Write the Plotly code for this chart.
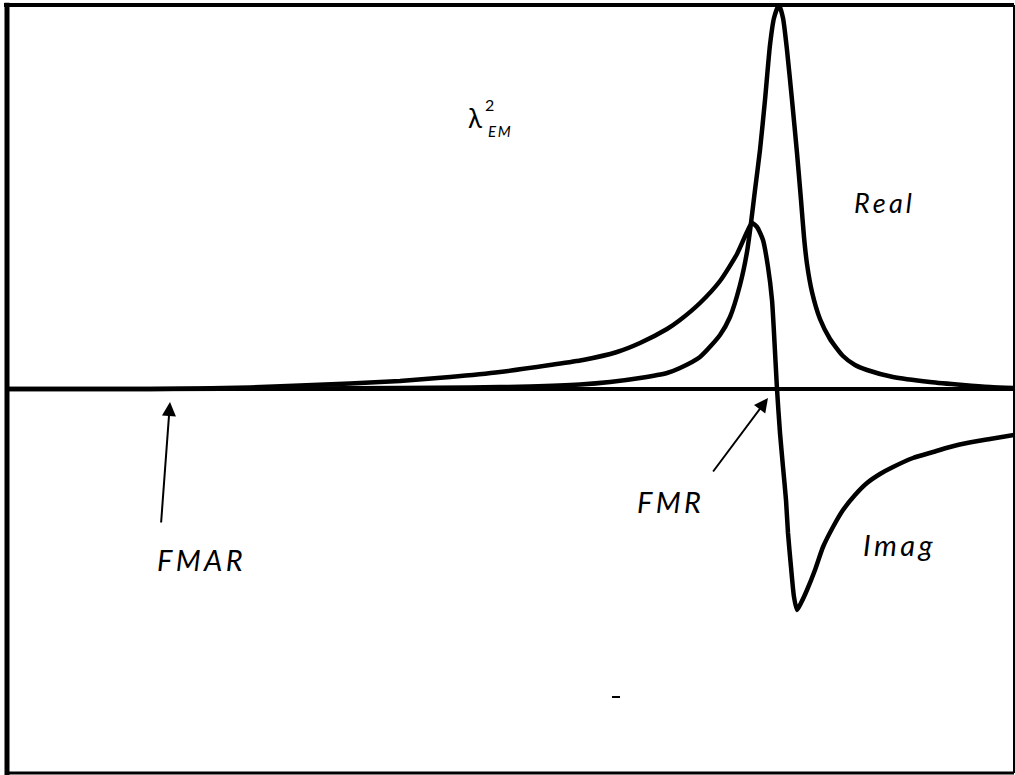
import plotly.graph_objects as go

# Field (arbitrary units) and response values
field_real = [7, 150, 300, 400, 470, 530, 580, 610, 640, 667, 680, 700, 720, 730, 740, 747, 751, 755,
              760, 765, 770, 774, 779, 783, 787, 792, 797, 801, 804, 807, 812, 820, 830, 843, 855, 867,
              893, 930, 963, 990, 1014]
real_vals = [0, 0, 0.5, 1, 1.5, 2.5, 4.5, 7, 11, 16, 21, 32, 54, 72, 104, 137, 166, 199,
             239, 289, 344, 371, 384, 371, 339, 289, 236, 189, 152, 125, 97, 70, 50, 33, 24, 19,
             12, 7, 4, 2, 1]

field_imag = [7, 150, 250, 300, 350, 400, 450, 500, 550, 583, 617, 640, 667, 680, 700, 720, 737, 747,
              752, 757, 763, 768, 772, 774, 777, 780, 783, 786, 788, 791, 794, 797, 801, 807, 815, 823,
              833, 843, 855, 867, 880, 893, 913, 933, 950, 967, 990, 1014]
imag_vals = [0, 0, 1.5, 3.5, 5.5, 8, 12, 17, 24, 29, 37, 46, 60, 69, 86, 108, 135, 157,
             166, 162, 149, 122, 89, 56, 0, -44, -78, -111, -144, -178, -208, -221, -214, -201, -181, -158,
             -138, -121, -106, -94, -85, -78, -69, -63, -58, -54, -50, -46]

x_range = [7, 1014]
y_range = [-384, 384]

fig = go.Figure()
line_style = dict(color="black", width=4.5, shape="spline", smoothing=0.6)
fig.add_trace(go.Scatter(x=field_real, y=real_vals, mode="lines", line=line_style,
                         name="Real", showlegend=False, hoverinfo="skip"))
fig.add_trace(go.Scatter(x=field_imag, y=imag_vals, mode="lines", line=line_style,
                         name="Imag", showlegend=False, hoverinfo="skip"))

font_main = "Lato, 'Liberation Sans', Arial, sans-serif"
ts = "\u2009"

annotations = [
    dict(x=475, y=271, text="λ", font=dict(size=26), showarrow=False),
    dict(x=489, y=285, text="2", font=dict(size=16), showarrow=False),
    dict(x=499, y=258, text="<i>E" + ts + "M</i>", font=dict(size=15), showarrow=False),
    dict(x=883, y=187, text="<i>R" + ts + "e" + ts + "a" + ts + "l</i>", font=dict(size=27), showarrow=False),
    dict(x=898, y=-155, text="<i>I" + ts + "m" + ts + "a" + ts + "g</i>", font=dict(size=29), showarrow=False),
    dict(x=669, y=-112, text="<i>F" + ts + "M" + ts + "R</i>", font=dict(size=29), showarrow=False),
    dict(x=200, y=-170, text="<i>F" + ts + "M" + ts + "A" + ts + "R</i>", font=dict(size=29), showarrow=False),
    # arrows
    dict(x=768, y=-9, ax=712, ay=-84, axref="x", ayref="y", xref="x", yref="y", text="",
         showarrow=True, arrowhead=2, arrowsize=1.4, arrowwidth=2, arrowcolor="black"),
    dict(x=170, y=-13, ax=161, ay=-135, axref="x", ayref="y", xref="x", yref="y", text="",
         showarrow=True, arrowhead=2, arrowsize=1.4, arrowwidth=2, arrowcolor="black"),
]
for a in annotations:
    a.setdefault("xref", "x")
    a.setdefault("yref", "y")
    a["font"] = dict(family=font_main, color="black", **a.get("font", {}))
fig.update_layout(annotations=annotations)

shapes = [
    dict(type="line", xref="paper", yref="paper", x0=0, x1=0, y0=-0.003, y1=1.003, line=dict(color="black", width=5)),
    dict(type="line", xref="paper", yref="paper", x0=-0.003, x1=1, y0=1, y1=1, line=dict(color="black", width=4)),
    dict(type="line", xref="paper", yref="paper", x0=1, x1=1, y0=0, y1=1, line=dict(color="black", width=2)),
    dict(type="line", xref="paper", yref="paper", x0=0, x1=1, y0=0, y1=0, line=dict(color="black", width=3)),
    dict(type="line", xref="x", yref="y", x0=612, x1=620, y0=-308, y1=-308, line=dict(color="black", width=2)),
]
fig.update_layout(shapes=shapes)

fig.update_xaxes(range=x_range, showgrid=False, zeroline=False, showticklabels=False, ticks="",
                 showline=False, fixedrange=True)
fig.update_yaxes(range=y_range, showgrid=False, zeroline=True, zerolinecolor="black", zerolinewidth=4,
                 showticklabels=False, ticks="", showline=False, fixedrange=True)

fig.update_layout(width=1015, height=775, margin=dict(l=7, r=1, t=5, b=2),
                  paper_bgcolor="white", plot_bgcolor="white", showlegend=False)

fig.write_html("out.html", config={"displayModeBar": False})
